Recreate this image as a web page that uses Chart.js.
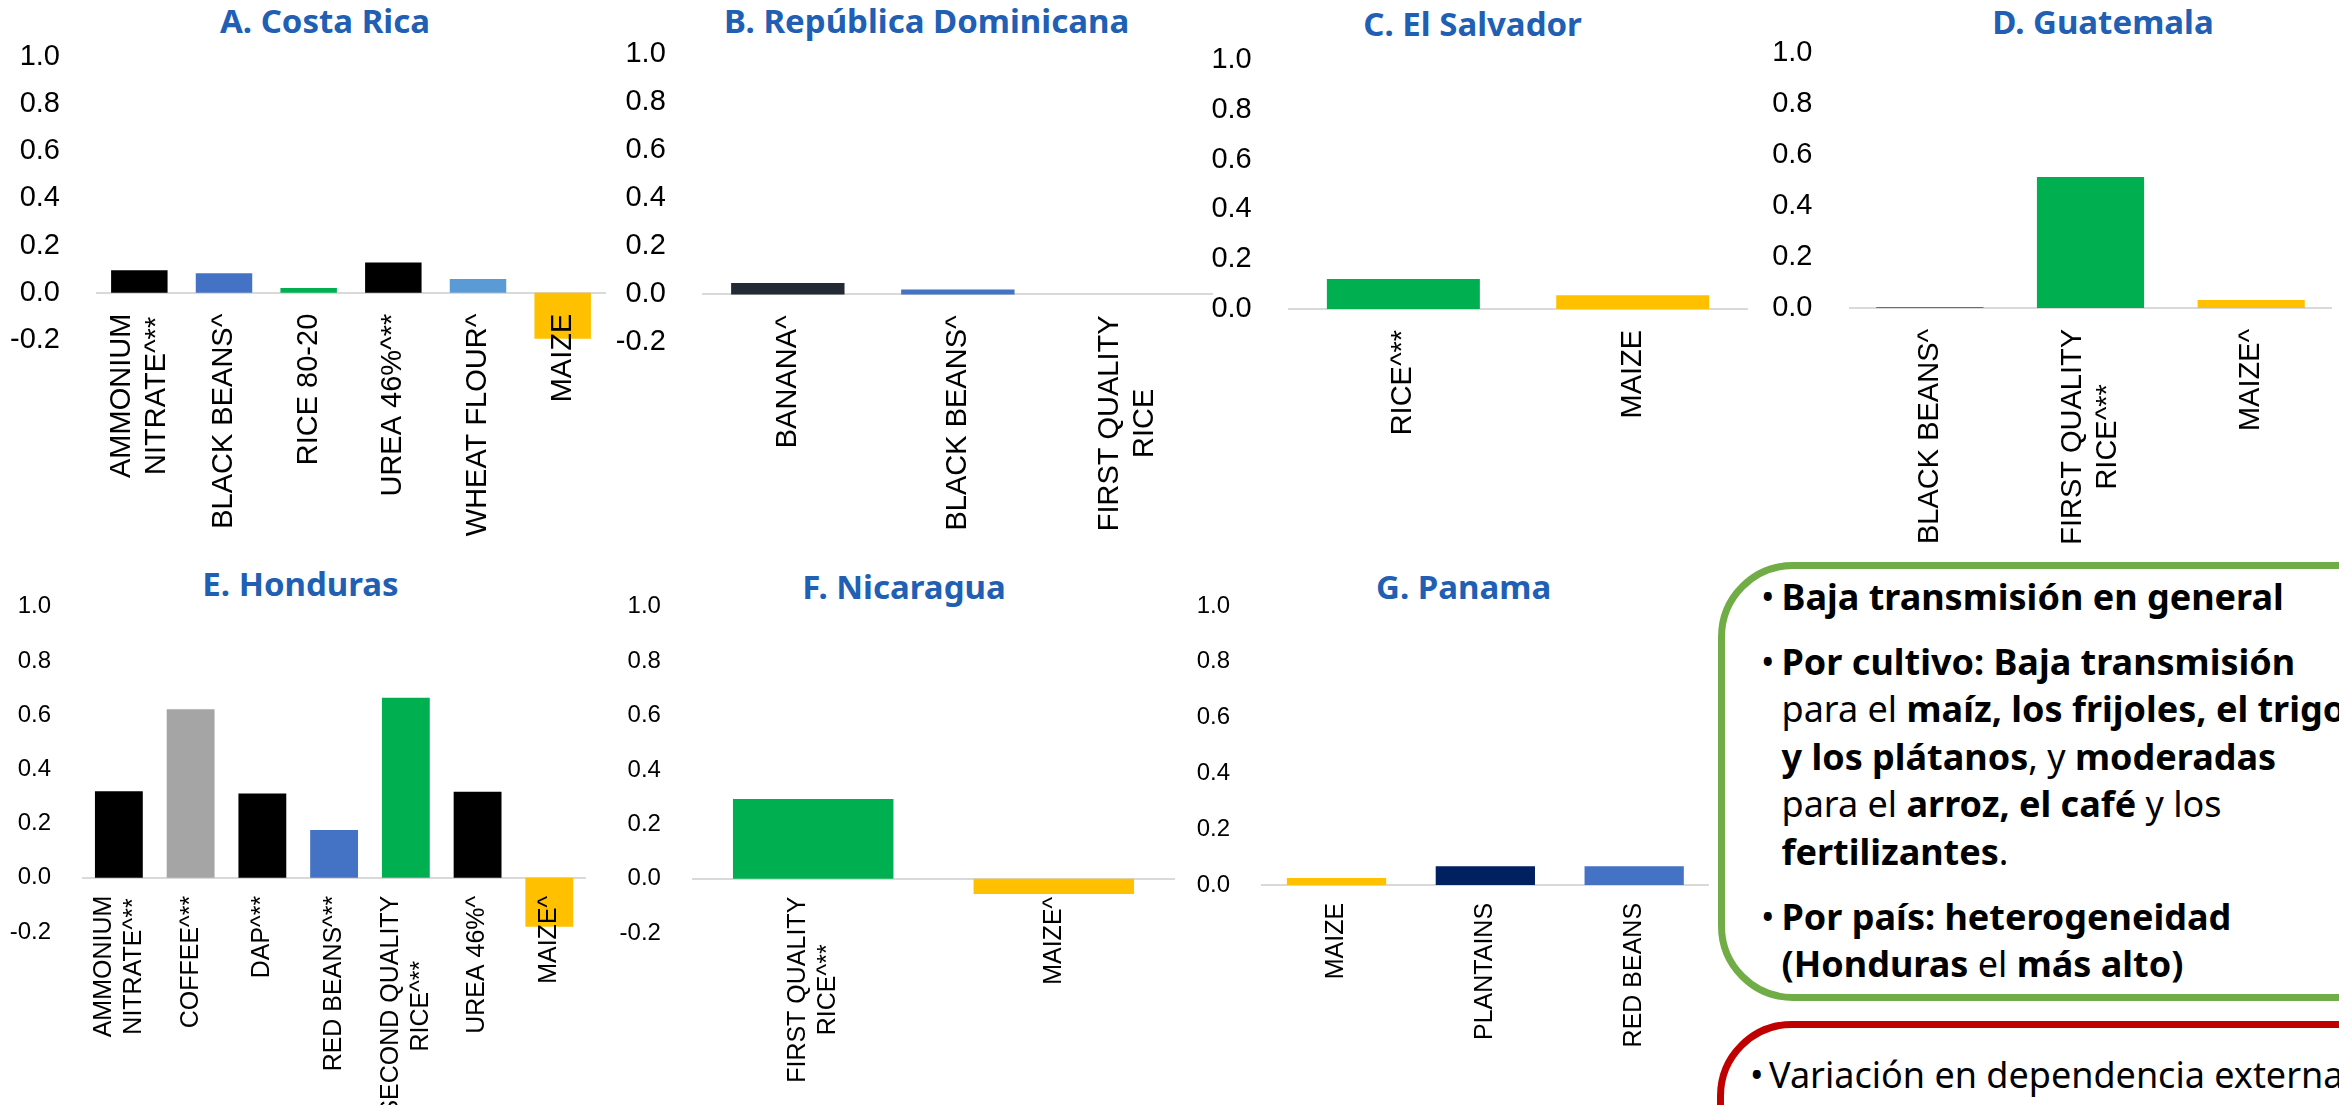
<!DOCTYPE html>
<html lang="es">
<head>
<meta charset="utf-8">
<title>Transmisión de precios internacionales por país</title>
<script src="https://cdn.jsdelivr.net/npm/chart.js@4.4.1/dist/chart.umd.min.js"></script>
<style>
  html, body { margin: 0; padding: 0; background: #ffffff; }
  body { width: 2339px; height: 1105px; position: relative; overflow: hidden; }
  canvas.panel { position: absolute; }
  .ttl {
    position: absolute; transform: translateX(-50%);
    font-family: 'Noto Sans', sans-serif; font-weight: 700;
    font-size: 33px; line-height: 33px; color: #205FB4; white-space: nowrap;
  }
  .box { position: absolute; box-sizing: border-box; border-radius: 75px; background: transparent; }
  #box-green { left: 1718px; top: 562px; width: 692px; height: 439px; border: 7px solid #70AD47; }
  #box-red { left: 1717px; top: 1021px; width: 700px; height: 220px; border: 7px solid #C00000; }
  .notes { position: absolute; font-family: 'Noto Sans', sans-serif; color: #000; white-space: nowrap; }
  .notes b { font-weight: 700; }
  .item { position: relative; }
  .item .dot { position: absolute; left: 0; top: 0; }
  #notes-green { left: 1761px; top: 572.6px; font-size: 36px; line-height: 47.5px; }
  #notes-green .item { padding-left: 20.5px; }
  #notes-green .item + .item { margin-top: 17.5px; }
  #notes-red { left: 1750px; top: 1053px; font-size: 36px; line-height: 44px; }
  #notes-red .item { padding-left: 19px; }
</style>
</head>
<body>

<div class="ttl" style="left:325px; top:4.1px;">A. Costa Rica</div>
<div class="ttl" style="left:926.6px; top:4.1px;">B. República Dominicana</div>
<div class="ttl" style="left:1472.6px; top:6.9px;">C. El Salvador</div>
<div class="ttl" style="left:2103px; top:5.3px;">D. Guatemala</div>
<div class="ttl" style="left:300.5px; top:566.7px;">E. Honduras</div>
<div class="ttl" style="left:904px; top:570.2px;">F. Nicaragua</div>
<div class="ttl" style="left:1463.6px; top:570.2px;">G. Panama</div>

<div class="box" id="box-green"></div>
<div class="notes" id="notes-green">
  <div class="item"><span class="dot">•</span><b>Baja transmisión en general</b></div>
  <div class="item"><span class="dot">•</span><b>Por cultivo: Baja transmisión</b><br>para el <b>maíz, los frijoles, el trigo</b><br><b>y los plátanos</b>, y <b>moderadas</b><br>para el <b>arroz, el café</b> y los<br><b>fertilizantes</b>.</div>
  <div class="item"><span class="dot">•</span><b>Por país: heterogeneidad</b><br><b>(Honduras</b> el <b>más alto)</b></div>
</div>

<div class="box" id="box-red"></div>
<div class="notes" id="notes-red">
  <div class="item"><span class="dot">•</span>Variación en dependencia externa</div>
</div>

<script>
// ---- data: elasticity of domestic prices to international prices ----
const TICKS_WITH_NEG = [-0.2, 0.0, 0.2, 0.4, 0.6, 0.8, 1.0];
const TICKS_POSITIVE = [0.0, 0.2, 0.4, 0.6, 0.8, 1.0];

const costaRicaLabels = [['AMMONIUM', 'NITRATE^**'], 'BLACK BEANS^', 'RICE 80-20', 'UREA 46%^**', 'WHEAT FLOUR^', 'MAIZE'];
const costaRicaValues = [0.095, 0.083, 0.02, 0.128, 0.058, -0.195];

const domRepLabels = ['BANANA^', 'BLACK BEANS^', ['FIRST QUALITY', 'RICE']];
const domRepValues = [0.047, 0.02, 0.0];

const elSalvadorLabels = ['RICE^**', 'MAIZE'];
const elSalvadorValues = [0.12, 0.055];

const guatemalaLabels = ['BLACK BEANS^', ['FIRST QUALITY', 'RICE^**'], 'MAIZE^'];
const guatemalaValues = [0.004, 0.513, 0.031];

const hondurasLabels = [['AMMONIUM', 'NITRATE^**'], 'COFFEE^**', 'DAP^**', 'RED BEANS^**', ['SECOND QUALITY', 'RICE^**'], 'UREA 46%^', 'MAIZE^'];
const hondurasValues = [0.319, 0.622, 0.311, 0.176, 0.664, 0.317, -0.181];

const nicaraguaLabels = [['FIRST QUALITY', 'RICE^**'], 'MAIZE^'];
const nicaraguaValues = [0.293, -0.056];

const panamaLabels = ['MAIZE', 'PLANTAINS', 'RED BEANS'];
const panamaValues = [0.025, 0.067, 0.067];

// ---- styling ----
const C = {
  fert: '#000000', beans: '#4472C4', rice: '#00B050', wheat: '#5B9BD5',
  maize: '#FFC000', coffee: '#A5A5A5', banana: '#222A35', plantain: '#002060'
};
const AXIS_FONT = "'Liberation Sans', Arial, Helvetica, sans-serif";

// Excel-style multi-line category labels: lines centred on the tick and
// centred against each other, with the block ending next to the axis.
const centerLines = {
  id: 'centerLines',
  beforeDraw(chart) {
    const scale = chart.scales.x;
    const items = scale.getLabelItems();
    if (items._centred) return;
    const ctx = chart.ctx;
    const out = [];
    for (const it of items) {
      if (!Array.isArray(it.label)) { out.push(it); continue; }
      ctx.save();
      ctx.font = it.font.string;
      const widths = it.label.map(s => ctx.measureText(s).width);
      ctx.restore();
      const W = Math.max(...widths);
      const lh = it.font.lineHeight;
      const n = it.label.length;
      const [x0, y0] = it.options.translation;
      it.label.forEach((line, i) => {
        out.push({
          label: line,
          font: it.font,
          textOffset: lh / 2,
          options: Object.assign({}, it.options, {
            translation: [x0 + (i - (n - 1) / 2) * lh, y0 + (W - widths[i]) / 2]
          })
        });
      });
    }
    items.length = 0;
    out.forEach(o => items.push(o));
    items._centred = true;
  }
};

function buildPanel(p) {
  const g = p.geom;
  const cv = document.createElement('canvas');
  cv.className = 'panel';
  cv.width = g.cw; cv.height = g.ch;
  cv.style.left = g.cl + 'px'; cv.style.top = g.ct + 'px';
  cv.style.width = g.cw + 'px'; cv.style.height = g.ch + 'px';
  document.body.appendChild(cv);
  const ticks = p.ticks;
  return new Chart(cv, {
    type: 'bar',
    data: {
      labels: p.labels,
      datasets: [{
        data: p.values,
        backgroundColor: p.colors,
        borderWidth: 0,
        categoryPercentage: 1.0,
        barPercentage: 0.667
      }]
    },
    options: {
      responsive: false,
      animation: false,
      devicePixelRatio: 1,
      events: [],
      layout: {
        padding: {
          left: 0,
          top: g.plotT - g.ct,
          right: g.cl + g.cw - g.plotR,
          bottom: g.ct + g.ch - g.plotB
        }
      },
      plugins: { legend: { display: false }, title: { display: false }, tooltip: { enabled: false } },
      scales: {
        x: {
          position: { y: 0 },
          grid: { display: false, drawTicks: false },
          border: { display: true, color: '#D9D9D9', width: 2 },
          ticks: {
            z: 1,
            autoSkip: false, minRotation: 90, maxRotation: 90,
            padding: p.style.labelPad, color: '#000000',
            font: { family: AXIS_FONT, size: p.style.catSize, lineHeight: 1.2 }
          }
        },
        y: {
          min: ticks[0], max: ticks[ticks.length - 1],
          grid: { display: false },
          border: { display: false },
          afterFit: s => { s.width = g.plotL - g.cl; },
          afterBuildTicks: s => { s.ticks = ticks.map(v => ({ value: v })); },
          ticks: {
            padding: p.style.tickPad, color: '#000000',
            font: { family: AXIS_FONT, size: p.style.tickSize, lineHeight: 1.2 },
            callback: v => Number(v).toFixed(1)
          }
        }
      }
    },
    plugins: [centerLines]
  });
}

const TOP_STYLE = { catSize: 29, tickSize: 29, labelPad: 21, tickPad: 29 };
const BOTTOM_STYLE = { catSize: 25, tickSize: 24, labelPad: 18, tickPad: 24 };

const panels = [
  { labels: costaRicaLabels, values: costaRicaValues, ticks: TICKS_WITH_NEG, style: TOP_STYLE,
    colors: [C.fert, C.beans, C.rice, C.fert, C.wheat, C.maize],
    geom: { cl: 0, ct: 0, cw: 665, ch: 545, plotL: 97, plotR: 605, plotT: 56.8, plotB: 339.9 } },
  { labels: domRepLabels, values: domRepValues, ticks: TICKS_WITH_NEG, style: TOP_STYLE,
    colors: [C.banana, C.beans, C.rice],
    geom: { cl: 600, ct: 0, cw: 673, ch: 545, plotL: 702.8, plotR: 1212.9, plotT: 54.4, plotB: 342.4 } },
  { labels: elSalvadorLabels, values: elSalvadorValues, ticks: TICKS_POSITIVE, style: TOP_STYLE,
    colors: [C.rice, C.maize],
    geom: { cl: 1190, ct: 0, cw: 618, ch: 545, plotL: 1288.7, plotR: 1747.4, plotT: 60.3, plotB: 308.9 } },
  { labels: guatemalaLabels, values: guatemalaValues, ticks: TICKS_POSITIVE, style: TOP_STYLE,
    colors: [C.beans, C.rice, C.maize],
    geom: { cl: 1760, ct: 0, cw: 632, ch: 545, plotL: 1849.5, plotR: 2331.5, plotT: 52.9, plotB: 307.9 } },
  { labels: hondurasLabels, values: hondurasValues, ticks: TICKS_WITH_NEG, style: BOTTOM_STYLE,
    colors: [C.fert, C.coffee, C.fert, C.beans, C.rice, C.fert, C.maize],
    geom: { cl: 0, ct: 540, cw: 645, ch: 565, plotL: 83, plotR: 585.2, plotT: 606.7, plotB: 931.9 } },
  { labels: nicaraguaLabels, values: nicaraguaValues, ticks: TICKS_WITH_NEG, style: BOTTOM_STYLE,
    colors: [C.rice, C.maize],
    geom: { cl: 600, ct: 540, cw: 634, ch: 565, plotL: 692.9, plotR: 1174.1, plotT: 606.7, plotB: 933.1 } },
  { labels: panamaLabels, values: panamaValues, ticks: TICKS_POSITIVE, style: BOTTOM_STYLE,
    colors: [C.maize, C.plantain, C.beans],
    geom: { cl: 1190, ct: 540, cw: 579, ch: 565, plotL: 1262.1, plotR: 1708.6, plotT: 605.9, plotB: 884.9 } }
];

panels.forEach(buildPanel);
</script>
</body>
</html>
